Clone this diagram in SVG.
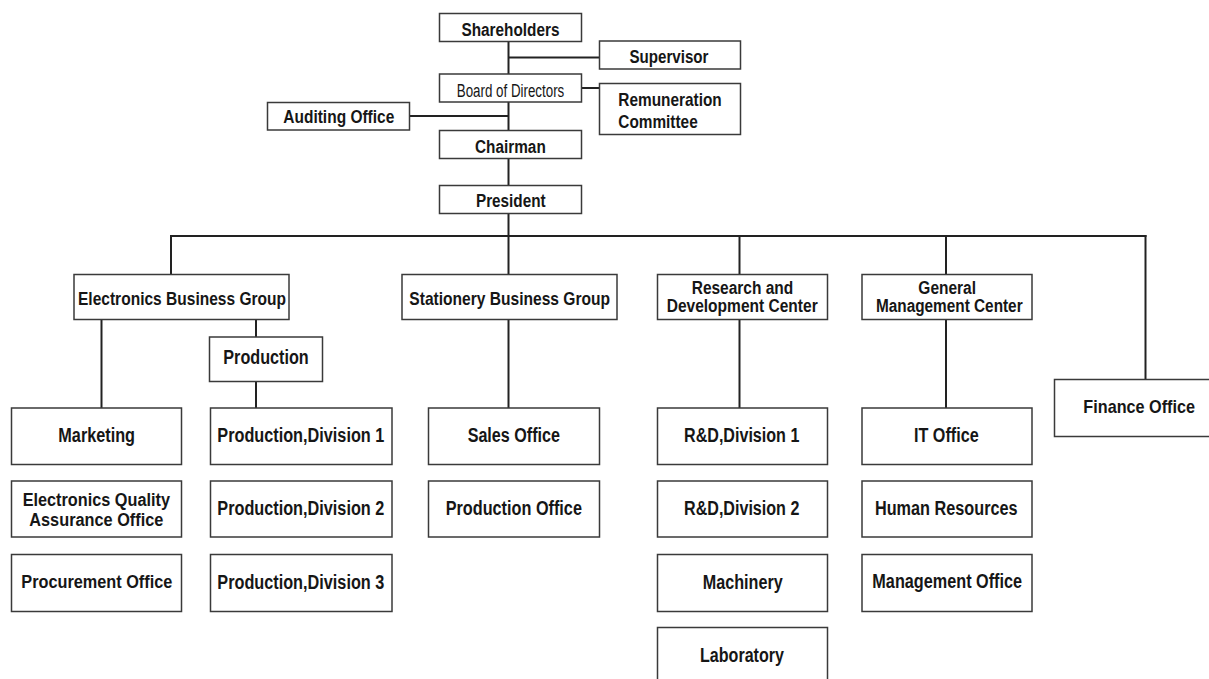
<svg xmlns="http://www.w3.org/2000/svg" width="1209" height="679" viewBox="0 0 1209 679">
<style>
.box{fill:#fff;stroke:#3a3a3a;stroke-width:1.5}
.t{font-family:"Liberation Sans Narrow","Arial Narrow","Liberation Sans",Arial,sans-serif;font-weight:bold;fill:#161616;text-anchor:middle}
.n{font-weight:normal}
.l{text-anchor:start}
#connectors line{stroke:#222;stroke-width:2;fill:none}
</style>
<rect width="1209" height="679" fill="#fff"/>
<g id="connectors">
<line x1="508.5" y1="42" x2="508.5" y2="74"/>
<line x1="508.5" y1="102" x2="508.5" y2="130.5"/>
<line x1="508.5" y1="158.5" x2="508.5" y2="185.5"/>
<line x1="508.5" y1="213.5" x2="508.5" y2="236"/>
<line x1="508.5" y1="57.5" x2="599.5" y2="57.5"/>
<line x1="581.5" y1="88" x2="599.5" y2="88"/>
<line x1="409.5" y1="116" x2="508.5" y2="116"/>
<line x1="170" y1="236" x2="1146.5" y2="236"/>
<line x1="171" y1="235" x2="171" y2="274.5"/>
<line x1="508.5" y1="236" x2="508.5" y2="274.5"/>
<line x1="739.5" y1="236" x2="739.5" y2="274.5"/>
<line x1="946" y1="236" x2="946" y2="274.5"/>
<line x1="1145.5" y1="235" x2="1145.5" y2="379.5"/>
<line x1="101.5" y1="319.5" x2="101.5" y2="408"/>
<line x1="256" y1="319.5" x2="256" y2="337"/>
<line x1="256" y1="381.5" x2="256" y2="408"/>
<line x1="508.5" y1="319.5" x2="508.5" y2="408"/>
<line x1="739.5" y1="319.5" x2="739.5" y2="408"/>
<line x1="946" y1="319.5" x2="946" y2="408"/>
</g>
<g id="shareholders"><rect class="box" x="439.5" y="13.5" width="142" height="28"/><text class="t" x="510.5" y="35.5" font-size="18" textLength="98" lengthAdjust="spacingAndGlyphs">Shareholders</text></g>
<g id="supervisor"><rect class="box" x="599.5" y="41" width="141" height="28"/><text class="t" x="669" y="63" font-size="18" textLength="79" lengthAdjust="spacingAndGlyphs">Supervisor</text></g>
<g id="board"><rect class="box" x="439.5" y="74" width="142" height="28"/><text class="t n" x="510.5" y="96.5" font-size="18" textLength="107.5" lengthAdjust="spacingAndGlyphs">Board of Directors</text></g>
<g id="remuneration"><rect class="box" x="599.5" y="83.5" width="141" height="51"/><text class="t l" x="618.3" y="106" font-size="19" textLength="103.4" lengthAdjust="spacingAndGlyphs">Remuneration</text><text class="t l" x="618.3" y="128.3" font-size="19" textLength="79.4" lengthAdjust="spacingAndGlyphs">Committee</text></g>
<g id="auditing"><rect class="box" x="267.5" y="102.5" width="142" height="27.5"/><text class="t" x="338.8" y="123.3" font-size="17.5" textLength="111" lengthAdjust="spacingAndGlyphs">Auditing Office</text></g>
<g id="chairman"><rect class="box" x="439.5" y="130.5" width="142" height="28"/><text class="t" x="510.4" y="152.7" font-size="18" textLength="70.7" lengthAdjust="spacingAndGlyphs">Chairman</text></g>
<g id="president"><rect class="box" x="439.5" y="185.5" width="142" height="28"/><text class="t" x="510.8" y="207.3" font-size="17.5" textLength="69.7" lengthAdjust="spacingAndGlyphs">President</text></g>
<g id="ebg"><rect class="box" x="74" y="274.5" width="215" height="45"/><text class="t" x="182" y="305.3" font-size="18" textLength="208" lengthAdjust="spacingAndGlyphs">Electronics Business Group</text></g>
<g id="production"><rect class="box" x="209.5" y="337" width="113" height="44.5"/><text class="t" x="266" y="364" font-size="19.5" textLength="85.4" lengthAdjust="spacingAndGlyphs">Production</text></g>
<g id="stationery"><rect class="box" x="402" y="274.5" width="215" height="45"/><text class="t" x="509.7" y="305.3" font-size="18.5" textLength="200.7" lengthAdjust="spacingAndGlyphs">Stationery Business Group</text></g>
<g id="rdcenter"><rect class="box" x="657.5" y="274.5" width="170" height="45"/><text class="t" x="742.5" y="294" font-size="18" textLength="101.6" lengthAdjust="spacingAndGlyphs">Research and</text><text class="t" x="742.2" y="312.3" font-size="18" textLength="151" lengthAdjust="spacingAndGlyphs">Development Center</text></g>
<g id="gmc"><rect class="box" x="862" y="274.5" width="170" height="45"/><text class="t" x="947.2" y="294" font-size="17.5" textLength="57.7" lengthAdjust="spacingAndGlyphs">General</text><text class="t" x="949.3" y="312.3" font-size="18" textLength="146.7" lengthAdjust="spacingAndGlyphs">Management Center</text></g>
<g id="finance"><rect class="box" x="1054.5" y="379.5" width="170" height="57"/><text class="t" x="1139.2" y="413.3" font-size="19" textLength="111.7" lengthAdjust="spacingAndGlyphs">Finance Office</text></g>
<g id="marketing"><rect class="box" x="11.5" y="408" width="170" height="56.5"/><text class="t" x="96.7" y="442.3" font-size="20" textLength="76.7" lengthAdjust="spacingAndGlyphs">Marketing</text></g>
<g id="eqa"><rect class="box" x="11.5" y="481" width="170" height="56"/><text class="t" x="96.3" y="506" font-size="18" textLength="147.3" lengthAdjust="spacingAndGlyphs">Electronics Quality</text><text class="t" x="96.3" y="526" font-size="18" textLength="134" lengthAdjust="spacingAndGlyphs">Assurance Office</text></g>
<g id="procurement"><rect class="box" x="11.5" y="554.5" width="170" height="57"/><text class="t" x="96.8" y="588.3" font-size="18.5" textLength="151" lengthAdjust="spacingAndGlyphs">Procurement Office</text></g>
<g id="proddiv1"><rect class="box" x="210.5" y="408" width="181.5" height="56.5"/><text class="t" x="300.8" y="442.3" font-size="20" textLength="167" lengthAdjust="spacingAndGlyphs">Production,Division 1</text></g>
<g id="proddiv2"><rect class="box" x="210.5" y="481" width="181.5" height="56"/><text class="t" x="300.8" y="515.3" font-size="20" textLength="167" lengthAdjust="spacingAndGlyphs">Production,Division 2</text></g>
<g id="proddiv3"><rect class="box" x="210.5" y="554.5" width="181.5" height="57"/><text class="t" x="300.8" y="588.7" font-size="20" textLength="167" lengthAdjust="spacingAndGlyphs">Production,Division 3</text></g>
<g id="sales"><rect class="box" x="428.5" y="408" width="171" height="56.5"/><text class="t" x="513.8" y="442" font-size="19.5" textLength="92.3" lengthAdjust="spacingAndGlyphs">Sales Office</text></g>
<g id="prodoffice"><rect class="box" x="428.5" y="481" width="171" height="56"/><text class="t" x="513.8" y="515" font-size="19.5" textLength="136.3" lengthAdjust="spacingAndGlyphs">Production Office</text></g>
<g id="rddiv1"><rect class="box" x="657.5" y="408" width="170" height="56.5"/><text class="t" x="741.7" y="442" font-size="19.5" textLength="115.3" lengthAdjust="spacingAndGlyphs">R&amp;D,Division 1</text></g>
<g id="rddiv2"><rect class="box" x="657.5" y="481" width="170" height="56"/><text class="t" x="741.7" y="515" font-size="19.5" textLength="115.3" lengthAdjust="spacingAndGlyphs">R&amp;D,Division 2</text></g>
<g id="machinery"><rect class="box" x="657.5" y="554.5" width="170" height="57"/><text class="t" x="742.7" y="588.7" font-size="19.5" textLength="80" lengthAdjust="spacingAndGlyphs">Machinery</text></g>
<g id="laboratory"><rect class="box" x="657.5" y="627.5" width="170" height="57"/><text class="t" x="742" y="661.7" font-size="19.5" textLength="84" lengthAdjust="spacingAndGlyphs">Laboratory</text></g>
<g id="itoffice"><rect class="box" x="862" y="408" width="170" height="56.5"/><text class="t" x="946.3" y="442" font-size="19.5" textLength="64.7" lengthAdjust="spacingAndGlyphs">IT Office</text></g>
<g id="hr"><rect class="box" x="862" y="481" width="170" height="56"/><text class="t" x="946.3" y="515.3" font-size="19.5" textLength="142.7" lengthAdjust="spacingAndGlyphs">Human Resources</text></g>
<g id="mgmtoffice"><rect class="box" x="862" y="554.5" width="170" height="57"/><text class="t" x="947.2" y="588.3" font-size="19.5" textLength="149.7" lengthAdjust="spacingAndGlyphs">Management Office</text></g>
</svg>
